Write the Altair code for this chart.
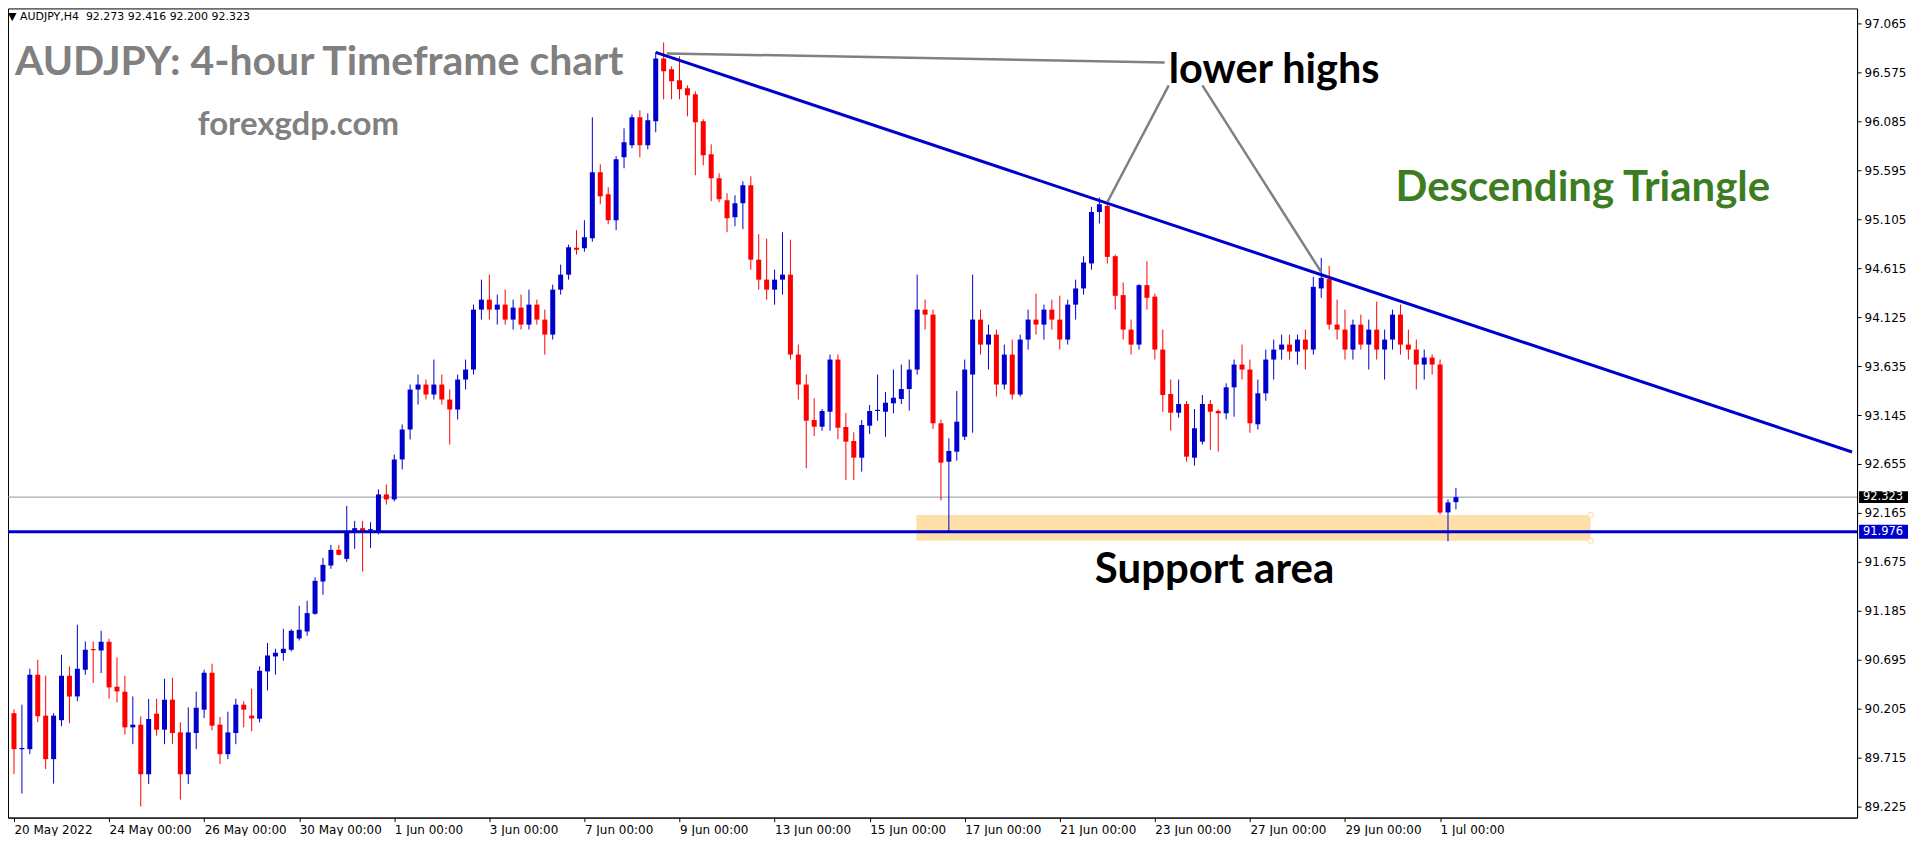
import altair as alt
import pandas as pd

# ---------------- data ----------------
opens = [90.16, 89.80, 89.80, 90.545, 90.135, 89.70, 90.09, 90.535, 90.328, 90.595,
         90.792, 90.788, 90.875, 90.425, 90.375, 90.018, 90.045, 89.55, 90.155, 89.995,
         90.295, 89.968, 89.55, 89.962, 90.195, 90.565, 90.045, 89.75, 89.962, 90.245,
         90.135, 90.105, 90.578, 90.728, 90.762, 90.795, 90.908, 90.978, 91.155, 91.478,
         91.638, 91.795, 91.705, 91.972, 92.012, 91.99, 91.972, 92.35, 92.30, 92.70,
         93.00, 93.40, 93.45, 93.35, 93.45, 93.30, 93.20, 93.50, 93.60, 94.20,
         94.30, 94.20, 94.25, 94.10, 94.22, 94.05, 94.25, 94.10, 93.95, 94.40,
         94.55, 94.82, 94.815, 94.915, 95.575, 95.355, 95.095, 95.725, 95.845, 96.125,
         95.845, 96.085, 96.715, 96.605, 96.495, 96.415, 96.355, 96.085, 95.755, 95.515,
         95.295, 95.125, 95.265, 95.445, 94.70, 94.50, 94.40, 94.50, 94.55, 93.75,
         93.45, 93.095, 93.028, 93.178, 93.70, 93.025, 92.885, 92.718, 93.038, 93.185,
         93.178, 93.262, 93.305, 93.405, 93.60, 94.20, 94.15, 93.062, 92.678, 92.778,
         92.928, 93.55, 94.10, 93.85, 93.95, 93.45, 93.75, 93.35, 93.90, 94.10,
         94.05, 94.20, 94.10, 93.90, 94.25, 94.412, 94.662, 95.178, 95.238, 94.735,
         94.345, 94.00, 93.85, 94.445, 94.33, 93.80, 93.355, 93.168, 93.255, 92.718,
         92.878, 93.255, 93.185, 93.162, 93.422, 93.65, 93.60, 93.052, 93.362, 93.70,
         93.80, 93.85, 93.78, 93.90, 93.80, 94.412, 94.505, 94.05, 94.00, 93.80,
         94.05, 93.85, 94.00, 93.80, 93.90, 94.15, 93.85, 93.80, 93.65, 93.72,
         93.65, 92.17, 92.273]
highs = [90.20, 90.245, 90.605, 90.695, 90.535, 90.16, 90.745, 90.628, 91.045, 90.878,
         90.878, 90.985, 90.905, 90.718, 90.535, 90.328, 90.128, 90.302, 90.305, 90.505,
         90.515, 90.068, 90.218, 90.375, 90.595, 90.655, 90.122, 90.175, 90.305, 90.278,
         90.405, 90.628, 90.862, 90.805, 91.005, 91.00, 91.235, 91.285, 91.52, 91.715,
         91.845, 91.845, 92.235, 92.085, 92.085, 92.072, 92.40, 92.45, 92.75, 93.05,
         93.45, 93.55, 93.50, 93.70, 93.55, 93.40, 93.55, 93.70, 94.25, 94.50,
         94.55, 94.35, 94.40, 94.30, 94.35, 94.40, 94.30, 94.20, 94.45, 94.65,
         94.85, 94.995, 95.095, 96.125, 95.655, 95.425, 95.735, 96.015, 96.155, 96.195,
         96.165, 96.775, 96.875, 96.635, 96.735, 96.445, 96.385, 96.105, 95.855, 95.565,
         95.365, 95.345, 95.485, 95.535, 94.955, 94.91, 94.60, 94.975, 94.90, 93.85,
         93.55, 93.312, 93.205, 93.75, 93.75, 93.165, 92.972, 93.095, 93.245, 93.55,
         93.375, 93.60, 93.65, 93.70, 94.55, 94.30, 94.20, 93.10, 92.912, 93.385,
         93.70, 94.55, 94.20, 94.05, 94.00, 93.85, 93.90, 93.95, 94.20, 94.36,
         94.25, 94.30, 94.34, 94.30, 94.50, 94.735, 95.228, 95.322, 95.295, 94.75,
         94.472, 94.10, 94.455, 94.685, 94.36, 94.00, 93.50, 93.50, 93.285, 93.205,
         93.345, 93.295, 93.202, 93.462, 93.70, 93.85, 93.70, 93.50, 93.80, 93.90,
         93.95, 93.95, 93.95, 94.00, 94.528, 94.718, 94.638, 94.30, 94.20, 94.10,
         94.15, 94.10, 94.28, 94.00, 94.20, 94.25, 94.00, 93.90, 93.80, 93.75,
         93.70, 92.30, 92.416]
lows = [89.55, 89.355, 89.75, 90.07, 89.60, 89.455, 90.03, 90.06, 90.28, 90.545,
        90.462, 90.562, 90.305, 90.268, 89.945, 89.85, 89.225, 89.45, 89.935, 89.85,
        89.85, 89.295, 89.45, 89.80, 90.112, 89.988, 89.65, 89.70, 89.85, 90.018,
        89.978, 90.068, 90.388, 90.545, 90.685, 90.78, 90.888, 90.935, 91.145, 91.345,
        91.605, 91.74, 91.675, 91.805, 91.578, 91.815, 91.95, 92.248, 92.28, 92.60,
        92.90, 93.25, 93.30, 93.30, 93.25, 92.85, 93.10, 93.40, 93.55, 94.10,
        94.10, 94.05, 94.05, 94.00, 94.00, 94.00, 94.05, 93.75, 93.90, 94.35,
        94.50, 94.75, 94.78, 94.88, 95.255, 95.055, 94.995, 95.615, 95.815, 95.725,
        95.805, 95.975, 96.305, 96.305, 96.305, 96.135, 95.545, 95.645, 95.285, 95.275,
        94.975, 95.035, 95.005, 94.60, 94.40, 94.30, 94.25, 94.35, 93.70, 93.30,
        92.612, 92.935, 92.988, 92.988, 92.902, 92.495, 92.495, 92.578, 92.955, 93.088,
        92.928, 93.162, 93.255, 93.188, 93.55, 94.00, 93.005, 92.29, 91.976, 92.688,
        92.895, 92.968, 93.75, 93.60, 93.33, 93.40, 93.30, 93.33, 93.80, 93.95,
        93.90, 94.00, 93.80, 93.85, 94.10, 94.35, 94.60, 95.062, 94.662, 94.20,
        93.90, 93.75, 93.80, 94.20, 93.70, 93.178, 92.988, 93.118, 92.678, 92.638,
        92.85, 92.795, 92.778, 93.102, 93.128, 93.50, 92.968, 93.00, 93.288, 93.50,
        93.70, 93.70, 93.65, 93.60, 93.75, 94.318, 94.00, 93.90, 93.70, 93.70,
        93.80, 93.60, 93.70, 93.50, 93.80, 93.75, 93.70, 93.40, 93.50, 93.55,
        92.15, 91.88, 92.200]
closes = [89.80, 89.80, 90.545, 90.13, 89.70, 90.135, 90.535, 90.328, 90.605, 90.795,
          90.790, 90.875, 90.418, 90.378, 90.018, 90.045, 89.55, 90.102, 89.995, 90.295,
          89.962, 89.55, 89.968, 90.215, 90.565, 90.035, 89.75, 89.968, 90.245, 90.195,
          90.108, 90.585, 90.738, 90.765, 90.805, 90.985, 90.995, 91.162, 91.485, 91.645,
          91.795, 91.745, 91.972, 92.012, 91.978, 92.00, 92.35, 92.30, 92.70, 93.00,
          93.40, 93.45, 93.35, 93.45, 93.30, 93.20, 93.50, 93.60, 94.20, 94.30,
          94.20, 94.25, 94.10, 94.22, 94.05, 94.25, 94.10, 93.95, 94.40, 94.55,
          94.825, 94.80, 94.925, 95.575, 95.335, 95.095, 95.705, 95.875, 96.125, 95.845,
          96.095, 96.715, 96.585, 96.485, 96.405, 96.345, 96.075, 95.745, 95.515, 95.305,
          95.115, 95.265, 95.445, 94.70, 94.50, 94.40, 94.50, 94.55, 93.75, 93.45,
          93.088, 93.028, 93.185, 93.70, 93.018, 92.878, 92.718, 93.045, 93.185, 93.19,
          93.268, 93.318, 93.405, 93.60, 94.20, 94.15, 93.062, 92.668, 92.785, 93.078,
          93.60, 94.10, 93.85, 93.95, 93.45, 93.75, 93.35, 93.90, 94.10, 94.05,
          94.20, 94.10, 93.90, 94.25, 94.412, 94.672, 95.178, 95.255, 94.728, 94.338,
          94.00, 93.85, 94.445, 94.318, 93.80, 93.345, 93.168, 93.255, 92.728, 93.012,
          93.255, 93.178, 93.162, 93.422, 93.65, 93.60, 93.062, 93.362, 93.70, 93.80,
          93.85, 93.78, 93.90, 93.80, 94.428, 94.518, 94.05, 94.00, 93.80, 94.05,
          93.85, 94.00, 93.80, 93.90, 94.15, 93.85, 93.80, 93.65, 93.72, 93.65,
          92.17, 92.27, 92.323]

x_tick_bars = [0, 12, 24, 36, 48, 60, 72, 84, 96, 108, 120, 132, 144, 156, 168, 180]
x_tick_labels = ["20 May 2022", "24 May 00:00", "26 May 00:00", "30 May 00:00", "1 Jun 00:00",
                 "3 Jun 00:00", "7 Jun 00:00", "9 Jun 00:00", "13 Jun 00:00", "15 Jun 00:00",
                 "17 Jun 00:00", "21 Jun 00:00", "23 Jun 00:00", "27 Jun 00:00", "29 Jun 00:00",
                 "1 Jul 00:00"]
y_ticks = [89.225, 89.715, 90.205, 90.695, 91.185, 91.675, 92.165, 92.655, 93.145,
           93.635, 94.125, 94.615, 95.105, 95.595, 96.085, 96.575, 97.065]

trend_x = [81, 232]
trend_y = [96.775, 92.775]
seg_x = [82.4, 145.75, 150.0]
seg_y = [96.765, 96.445, 96.445]
seg_x2 = [145.25, 138.0, 165.0]
seg_y2 = [96.675, 95.275, 94.575]
zone_x = [113.9, 199.0]
zone_y = [91.885, 92.145]
support_level = 91.976
bid_level = 92.323

# ---------------- frames ----------------
n = len(closes)
df = pd.DataFrame({"i": list(range(n)), "open": opens, "high": highs,
                   "low": lows, "close": closes})
df["dir"] = ["up" if c >= o else "down" for o, c in zip(df["open"], df["close"])]
df["blo"] = df[["open", "close"]].min(axis=1)
df["bhi"] = df[["open", "close"]].max(axis=1)
thin = (df["bhi"] - df["blo"]) < 0.012
df.loc[thin, "bhi"] = df.loc[thin, "blo"] + 0.012

W, Hh = 1851, 810
xs = alt.Scale(domain=[-0.125, 232], nice=False, zero=False)
ys = alt.Scale(domain=[89.115, 97.215], nice=False, zero=False)

label_expr = "[" + ",".join("'%s'" % s for s in x_tick_labels) + "][round(datum.value/12)]"
xaxis = alt.Axis(values=x_tick_bars, labelExpr=label_expr, title=None, grid=False,
                 labelAlign="left", labelBaseline="top", labelPadding=3, tickSize=4,
                 labelFont="DejaVu Sans", labelFontSize=12, labelColor="black",
                 domainColor="black", tickColor="black", labelOverlap=False,
                 labelFlush=False)
yaxis = alt.Axis(values=y_ticks, format=".3f", orient="right", title=None, grid=False,
                 tickSize=4, labelPadding=3, labelFont="DejaVu Sans", labelFontSize=12,
                 labelColor="black", domainColor="black", tickColor="black",
                 labelOverlap=False, labelFlush=False)

X = lambda f: alt.X(f, scale=xs, axis=xaxis)
Y = lambda f: alt.Y(f, scale=ys, axis=yaxis)
color = alt.Color("dir:N", scale=alt.Scale(domain=["up", "down"], range=["#0000CC", "#FF0000"]),
                  legend=None)

zone_df = pd.DataFrame({"x0": [zone_x[0]], "x1": [zone_x[1]], "y0": [zone_y[0]], "y1": [zone_y[1]]})
zone = alt.Chart(zone_df).mark_rect(color="#FFDFA8", clip=True).encode(
    x=X("x0:Q"), x2="x1:Q", y=Y("y0:Q"), y2="y1:Q")
handles_df = pd.DataFrame({"x": [zone_x[1], zone_x[1]], "y": [zone_y[1], zone_y[0]]})
handles = alt.Chart(handles_df).mark_point(shape="square", size=20, filled=True, fill="white",
                                           stroke="#FFDFA8", strokeWidth=1, opacity=1).encode(
    x=X("x:Q"), y=Y("y:Q"))

bid_df = pd.DataFrame({"p": [bid_level]})
bid = alt.Chart(bid_df).mark_rule(color="#8A94A6", strokeWidth=1, clip=True).encode(y=Y("p:Q"))

wicks = alt.Chart(df).mark_rule(strokeWidth=1, clip=True).encode(
    x=X("i:Q"), y=Y("low:Q"), y2="high:Q", color=color)
bodies = alt.Chart(df).mark_bar(size=5, clip=True).encode(
    x=X("i:Q"), y=Y("blo:Q"), y2="bhi:Q", color=color)

sup_df = pd.DataFrame({"p": [support_level]})
sup = alt.Chart(sup_df).mark_rule(color="#0000CC", strokeWidth=3, clip=True).encode(y=Y("p:Q"))

trend_df = pd.DataFrame({"x": trend_x, "y": trend_y})
trend = alt.Chart(trend_df).mark_line(color="#0000CC", strokeWidth=3, clip=True).encode(
    x=X("x:Q"), y=Y("y:Q"))

seg_df = pd.DataFrame({"x": seg_x, "y": seg_y, "x2": seg_x2, "y2": seg_y2})
segs = alt.Chart(seg_df).mark_rule(color="#808080", strokeWidth=2.5, clip=True).encode(
    x=X("x:Q"), y=Y("y:Q"), x2="x2:Q", y2="y2:Q")


def txt(s, x, y, size, color, weight="bold", font="Lato", align="left", baseline="alphabetic"):
    return alt.Chart(pd.DataFrame({"t": [s]})).mark_text(
        font=font, fontSize=size, fontWeight=weight, color=color, align=align,
        baseline=baseline).encode(x=alt.value(x), y=alt.value(y), text="t:N")


header = txt("\u25BC AUDJPY,H4\u00a0\u00a092.273 92.416 92.200 92.323", 0, 9, 11, "black",
             weight="normal", font="DejaVu Sans", baseline="middle")
title1 = txt("AUDJPY: 4-hour Timeframe chart", 7, 67, 41, "#808080")
title2 = txt("forexgdp.com", 190, 127, 33, "#808080")
lower = txt("lower highs", 1162, 75, 41.5, "black")
desc = txt("Descending Triangle", 1389, 193, 42, "#3C7D22")
supt = txt("Support area", 1088, 575, 42, "black")

box_df = pd.DataFrame({"p": [bid_level, support_level],
                       "lo": [bid_level - 0.06, support_level - 0.07],
                       "hi": [bid_level + 0.06, support_level + 0.07],
                       "lab": ["92.323", "91.976"],
                       "k": ["bid", "sup"]})
boxes = alt.Chart(box_df).mark_rect().encode(
    x=alt.value(1853), x2=alt.value(1902), y=Y("lo:Q"), y2="hi:Q",
    color=alt.Color("k:N", scale=alt.Scale(domain=["bid", "sup"], range=["#000000", "#0000CC"]),
                    legend=None))
box_txt = alt.Chart(box_df).mark_text(font="DejaVu Sans", fontSize=11.5, color="white",
                                      align="center", baseline="middle").encode(
    x=alt.value(1877), y=Y("p:Q"), text="lab:N")

chart = alt.layer(zone, handles, bid, wicks, bodies, trend, sup, segs,
                  header, title1, title2, lower, desc, supt, boxes, box_txt).resolve_scale(
    color="independent").properties(width=W, height=Hh, padding=0, background="white"
).configure_view(stroke="black", strokeWidth=1)

chart.save("out.html", embed_options={"renderer": "svg", "actions": False})
